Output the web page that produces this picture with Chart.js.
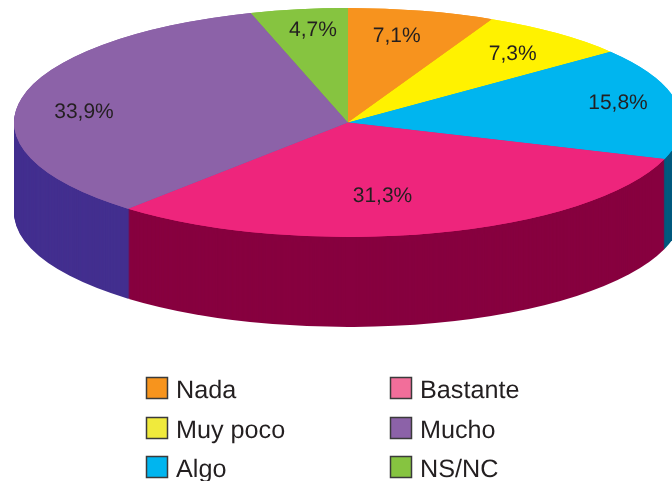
<!DOCTYPE html>
<html>
<head>
<meta charset="utf-8">
<style>html,body{margin:0;padding:0;background:#fff}canvas{display:block}</style>
<script src="https://cdn.jsdelivr.net/npm/chart.js@4"></script>
</head>
<body>
<canvas id="c" width="672" height="481"></canvas>
<script>
const categories = ['Nada','Muy poco','Algo','Bastante','Mucho','NS/NC'];
const values = [7.1,7.3,15.8,31.3,33.9,4.7];
const valueLabels = ['7,1%','7,3%','15,8%','31,3%','33,9%','4,7%'];
const topColors = ['#F7931E','#FFF200','#00B5EF','#EE257C','#8C62A8','#86C440'];
const wallColors = ['#8A4F0E','#8A8300','#005A7F','#87003F','#432F8F','#4A6E20'];
const legendColors = ['#F7941D','#F0EA3C','#00B5EF','#F26E9A','#8C62A8','#86C440'];
const legendOrder = [[0,1,2],[3,4,5]];
const wallPaintOrder = [0,1,2,4,5,3];
const labelRadius = [.774,.779,.827,.646,.797,.818];
const labelTurnDeg = [-1.9,.6,-2.4,5.9,-4.8,1.1];

const view = {cx:348, cy:122.5, rx:334, ry:114.5, depth:90};
const textColor = '#231F20';
const fontFamily = '"Liberation Sans", Arial, sans-serif';

function applyView(ctx, arc, k){
  ctx.translate(view.cx, view.cy + k);
  ctx.scale(view.rx / arc.outerRadius, view.ry / arc.outerRadius);
  ctx.translate(-arc.x, -arc.y);
}
function paintArc(ctx, arc, color, k){
  const o = arc.options, w = Object.create(o);
  w.backgroundColor = color;
  w.borderColor = color;
  arc.options = w;
  ctx.save(); applyView(ctx, arc, k); arc.draw(ctx); ctx.restore();
  arc.options = o;
}

const tilt = {
  id:'tilt',
  beforeDatasetsDraw(chart){
    const ctx = chart.ctx, arcs = chart.getDatasetMeta(0).data;
    for (let k = view.depth; k >= 1; k--) {
      wallPaintOrder.forEach(i => paintArc(ctx, arcs[i], wallColors[i], k));
    }
    arcs.forEach((arc,i) => paintArc(ctx, arc, topColors[i], 0));
    ctx.save();
    applyView(ctx, arcs[0], 0);
  },
  afterDatasetsDraw(chart){
    const ctx = chart.ctx, arcs = chart.getDatasetMeta(0).data;
    ctx.restore();
    ctx.save();
    ctx.textRendering = 'geometricPrecision';
    ctx.font = '21px ' + fontFamily;
    ctx.fillStyle = textColor;
    ctx.textAlign = 'center';
    ctx.textBaseline = 'middle';
    arcs.forEach((arc,i) => {
      const a = (arc.startAngle + arc.endAngle)/2 + labelTurnDeg[i]*Math.PI/180;
      ctx.fillText(valueLabels[i],
        view.cx + view.rx*labelRadius[i]*Math.cos(a),
        view.cy + view.ry*labelRadius[i]*Math.sin(a) + 1);
    });
    ctx.restore();
  },
  afterDraw(chart){
    const ctx = chart.ctx;
    ctx.save();
    ctx.textRendering = 'geometricPrecision';
    ctx.font = '25.2px ' + fontFamily;
    ctx.textAlign = 'left';
    ctx.textBaseline = 'alphabetic';
    const colX = [146,390], rowY = [377,417,456];
    legendOrder.forEach((col,c) => col.forEach((idx,r) => {
      ctx.fillStyle = legendColors[idx];
      ctx.strokeStyle = '#3A3A3A';
      ctx.lineWidth = 1.5;
      ctx.fillRect(colX[c]+.5, rowY[r]+.5, 21, 21);
      ctx.strokeRect(colX[c]+.5, rowY[r]+.5, 21, 21);
      ctx.fillStyle = textColor;
      ctx.fillText(categories[idx], colX[c]+30, rowY[r]+21);
    }));
    ctx.restore();
  }
};

new Chart(document.getElementById('c'), {
  type:'pie',
  data:{labels:categories, datasets:[{data:values, backgroundColor:topColors, borderWidth:0, clip:false}]},
  options:{
    responsive:false, animation:false,
    plugins:{legend:{display:false}, tooltip:{enabled:false}}
  },
  plugins:[tilt]
});
</script>
</body>
</html>
